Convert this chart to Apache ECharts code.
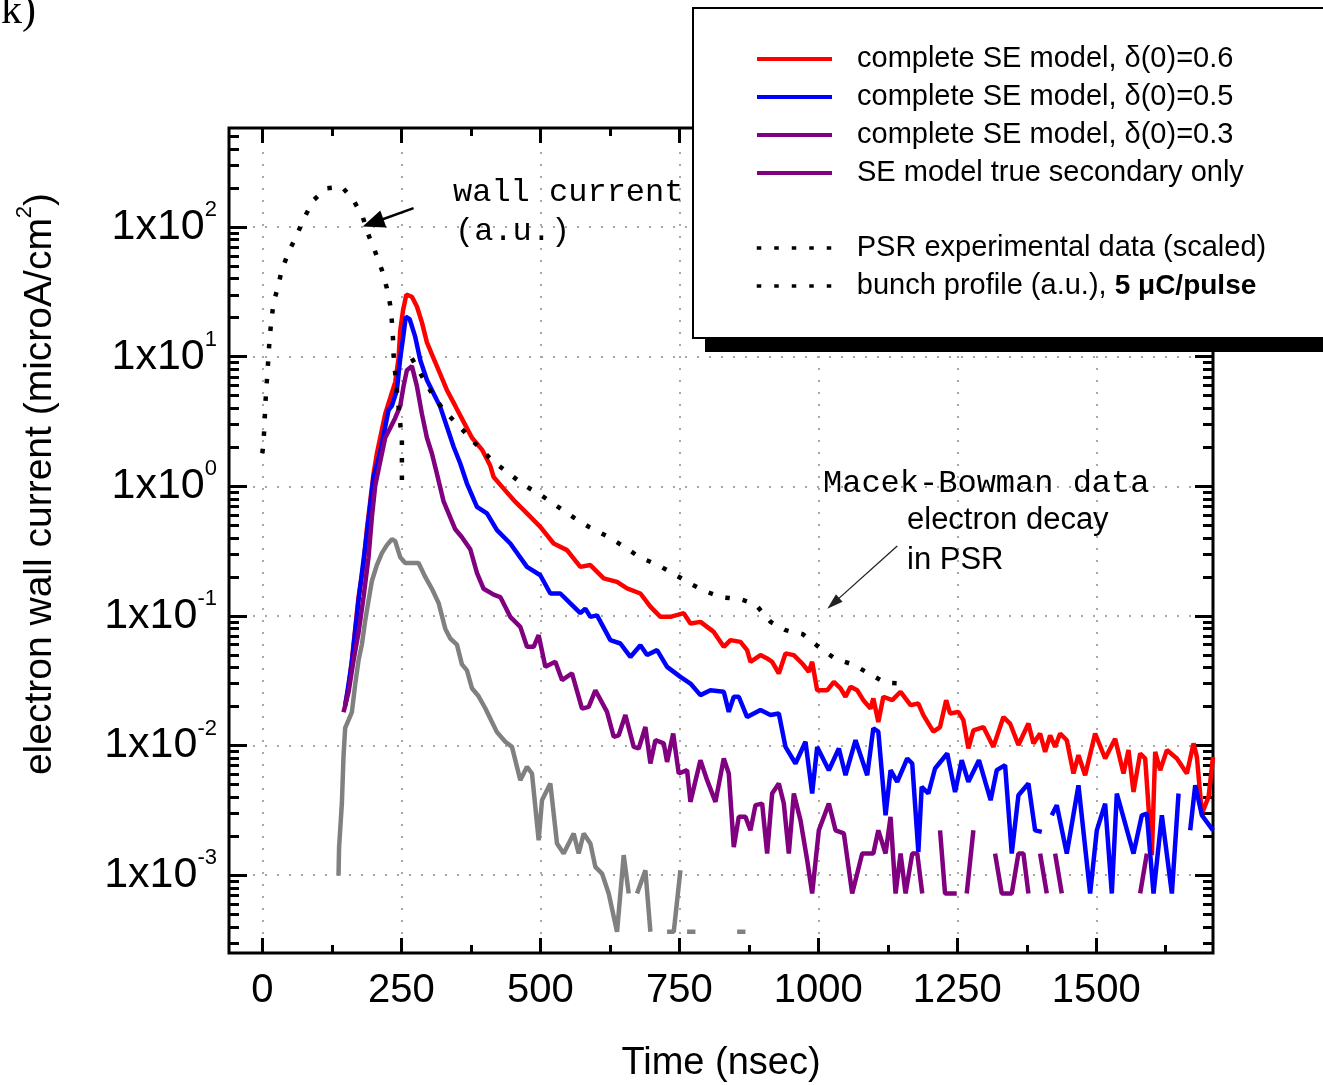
<!DOCTYPE html>
<html><head><meta charset="utf-8">
<script src="https://cdn.jsdelivr.net/npm/echarts@6/dist/echarts.min.js"></script>
<style>html,body{margin:0;padding:0;background:#fff}#c{width:1323px;height:1085px}</style>
</head><body><div id="c"></div>
<script>
// ---- tick labels ----
const xTickValues = [0, 250, 500, 750, 1000, 1250, 1500];
const xMinorTickValues = [125, 375, 625, 875, 1125, 1375, 1625];
const yDecadeExponents = [-3, -2, -1, 0, 1, 2];

// ---- series values: [time (nsec), current (microA/cm^2)], null = no signal ----
const seDelta06 = [[149,0.0209],[155,0.0277],[161,0.0454],[167,0.0798],[173,0.140],[182,0.247],[188,0.466],[194,0.765],[200,1.25],[206,1.79],[215,2.73],[221,3.62],[230,4.80],[239,6.37],[245,9.72],[248,15.9],[253,22.7],[259,30.1],[269,29.0],[278,24.4],[287,18.4],[296,12.9],[308,9.72],[320,7.33],[332,5.52],[347,4.17],[362,3.14],[377,2.37],[395,1.92],[410,1.44],[416,1.18],[434,0.96],[452,0.783],[476,0.618],[500,0.487],[524,0.362],[548,0.322],[572,0.239],[590,0.247],[614,0.195],[638,0.183],[656,0.163],[680,0.149],[698,0.118],[716,0.0984],[734,0.0984],[758,0.105],[770,0.0875],[788,0.0900],[812,0.0753],[830,0.0578],[842,0.0651],[860,0.0631],[872,0.0545],[878,0.0443],[896,0.0499],[908,0.0470],[917,0.0443],[929,0.0360],[941,0.0514],[956,0.0499],[971,0.0430],[983,0.0371],[989,0.0443],[998,0.0267],[1016,0.0267],[1028,0.0310],[1040,0.0276],[1049,0.0238],[1058,0.0284],[1070,0.0267],[1081,0.0224],[1094,0.0193],[1099,0.0231],[1108,0.0152],[1117,0.0238],[1133,0.0224],[1148,0.0260],[1166,0.0205],[1180,0.0211],[1189,0.0172],[1207,0.0128],[1219,0.0139],[1230,0.0224],[1237,0.0177],[1252,0.0182],[1261,0.0157],[1270,0.0095],[1279,0.0131],[1297,0.0139],[1315,0.00977],[1333,0.0166],[1345,0.0148],[1360,0.0101],[1378,0.0148],[1387,0.0104],[1399,0.0124],[1408,0.00894],[1417,0.0120],[1426,0.00977],[1435,0.0124],[1447,0.0110],[1459,0.00609],[1468,0.00843],[1480,0.00591],[1498,0.0124],[1516,0.00795],[1534,0.0113],[1549,0.00609],[1558,0.00923],[1567,0.00439],[1579,0.00869],[1588,0.00795],[1600,0.00143],[1606,0.00894],[1615,0.00646],[1627,0.00923],[1645,0.00795],[1663,0.00609],[1675,0.0104],[1681,0.00818],[1690,0.00299],[1702,0.00402],[1710,0.00818]];

const seDelta05 = [[149,0.0201],[161,0.0440],[173,0.132],[188,0.436],[200,1.18],[212,1.84],[227,3.88],[233,4.17],[242,5.52],[248,9.72],[254,14.9],[258,20.3],[265,19.5],[275,14.2],[284,9.42],[296,6.60],[308,5.21],[320,4.10],[332,2.88],[344,2.02],[356,1.50],[368,1.05],[386,0.695],[404,0.618],[422,0.459],[446,0.362],[476,0.239],[500,0.206],[518,0.149],[536,0.149],[554,0.125],[572,0.105],[581,0.114],[590,0.0984],[602,0.101],[626,0.0651],[644,0.0613],[662,0.0483],[680,0.0595],[692,0.0499],[710,0.0545],[728,0.0405],[752,0.0339],[770,0.0301],[788,0.0245],[806,0.0267],[830,0.0260],[839,0.0182],[848,0.0238],[857,0.0238],[872,0.0166],[896,0.0188],[914,0.0172],[929,0.0177],[941,0.00977],[959,0.00727],[977,0.0107],[989,0.00427],[998,0.00977],[1019,0.00646],[1037,0.0095],[1049,0.00591],[1067,0.0110],[1088,0.00591],[1099,0.0136],[1108,0.0128],[1121,0.0029],[1130,0.00646],[1142,0.00525],[1160,0.00795],[1169,0.00727],[1180,0.00151],[1186,0.0048],[1198,0.00427],[1210,0.00666],[1232,0.00869],[1246,0.00439],[1258,0.00771],[1270,0.00525],[1289,0.00771],[1310,0.00379],[1321,0.00646],[1336,0.00706],[1348,0.00147],[1360,0.00414],[1378,0.0051],[1390,0.00222],[1402,0.00216],[1410,null],[1420,0.0029],[1429,0.00347],[1447,0.00147],[1468,0.00494],[1489,0.000723],[1501,0.00222],[1516,0.00357],[1528,0.000723],[1537,0.00427],[1567,0.00147],[1582,0.0029],[1591,0.00299],[1603,0.000723],[1618,0.0029],[1636,0.000723],[1648,0.00427],[1655,null],[1669,0.00222],[1678,0.00494],[1690,0.0029],[1710,0.00222]];

const seDelta03 = [[146,0.0181],[155,0.0258],[164,0.0454],[173,0.0743],[182,0.140],[191,0.284],[197,0.577],[203,1.01],[212,1.55],[221,2.37],[230,2.82],[239,3.37],[248,4.17],[254,5.93],[260,7.87],[269,8.45],[278,5.93],[287,3.62],[296,2.37],[305,1.79],[314,1.25],[326,0.765],[335,0.619],[347,0.466],[359,0.405],[374,0.327],[386,0.215],[398,0.162],[416,0.146],[428,0.140],[446,0.0984],[464,0.0824],[476,0.0578],[488,0.0578],[497,0.0711],[509,0.0405],[527,0.0443],[539,0.032],[557,0.036],[575,0.0193],[587,0.0199],[599,0.0267],[620,0.0182],[632,0.0117],[641,0.0120],[653,0.0172],[668,0.00977],[677,0.0095],[689,0.0139],[698,0.00727],[707,0.0110],[722,0.0104],[728,0.00748],[739,0.0124],[749,0.00609],[764,0.00646],[770,0.00368],[788,0.00771],[800,0.00541],[815,0.00368],[830,0.00795],[839,0.00609],[848,0.00165],[857,0.00282],[869,0.00282],[878,0.00222],[887,0.00347],[899,0.00357],[908,0.00147],[917,0.00427],[929,0.0051],[938,0.00357],[947,0.00147],[956,0.00427],[968,0.00265],[980,0.00131],[989,0.000723],[1001,0.00222],[1019,0.00357],[1031,0.00222],[1046,0.0021],[1061,0.000723],[1079,0.00147],[1099,0.00147],[1108,0.00222],[1121,0.00147],[1130,0.00282],[1139,0.000723],[1148,0.00147],[1157,0.000723],[1169,0.00147],[1178,0.00147],[1187,0.000723],[1200,null],[1219,0.00222],[1228,0.000723],[1249,0.000723],[1258,null],[1267,0.000723],[1279,0.00222],[1290,null],[1318,0.00147],[1330,0.000723],[1348,0.000723],[1360,0.00147],[1369,0.00147],[1378,0.000723],[1388,null],[1399,0.00147],[1411,0.000723],[1418,null],[1426,0.00147],[1438,0.000723],[1445,null],[1579,0.000723],[1591,0.00147],[1600,null]];

const trueSecondaryOnly = [[137,0.000993],[138,0.00164],[143,0.00356],[146,0.00833],[149,0.0137],[155,0.0157],[161,0.0181],[167,0.0297],[173,0.0454],[179,0.0601],[185,0.092],[191,0.131],[197,0.186],[206,0.247],[215,0.305],[224,0.352],[233,0.391],[239,0.377],[248,0.284],[257,0.256],[269,0.256],[281,0.256],[293,0.2],[305,0.162],[317,0.126],[329,0.0798],[338,0.067],[350,0.0601],[359,0.0423],[368,0.038],[377,0.0277],[389,0.024],[401,0.0194],[413,0.0152],[422,0.0127],[437,0.0107],[449,0.00977],[464,0.00541],[476,0.00686],[485,0.00609],[497,0.00186],[503,0.00379],[518,0.0051],[530,0.00176],[542,0.00147],[560,0.0021],[569,0.00147],[578,0.0021],[590,0.00176],[599,0.00116],[611,0.00103],[623,0.000723],[638,0.000366],[650,0.00143],[659,0.000723],[666,null],[674,0.000723],[689,0.00109],[698,0.000366],[705,null],[728,0.000366],[740,0.000366],[752,0.00109],[758,null],[764,0.000366],[779,0.000366],[790,null],[854,0.000366],[869,0.000366],[875,null]];

const psrExperimental = [[269,9.7],[286,7.2],[305,5.21],[326,3.87],[355,2.88],[383,2.14],[413,1.59],[443,1.26],[471,1.02],[501,0.855],[530,0.703],[561,0.571],[589,0.482],[620,0.413],[651,0.341],[679,0.283],[709,0.25],[737,0.215],[769,0.178],[795,0.156],[827,0.139],[859,0.135],[887,0.123],[914,0.0901],[941,0.0777],[972,0.0724],[999,0.0585],[1031,0.0465],[1062,0.0423],[1091,0.036],[1121,0.0305],[1149,0.0301]];

const bunchProfile = [[0,1.8],[2,2.2],[4,3.0],[5,4.1],[7,5.5],[9,7.4],[11,10],[13,13.8],[16,18.6],[20,25.8],[28,34.6],[35,46.6],[47,63.8],[62,86.7],[75,117],[92,161],[115,199],[143,205],[164,161],[181,118],[191,86.7],[203,64.4],[215,46.6],[224,33.7],[230,25.0],[233,18.6],[235,13.8],[236,10.3],[239,7.4],[242,5.5],[245,4.1],[248,3.05],[251,2.27],[251,0.9]];

// annotation arrows [time, current]
const wallArrow = [[272, 140], [199, 108]];
const macekArrow = [[1142, 0.346], [1027, 0.125]];

// ---- names ----
const N06 = 'complete SE model, \u03b4(0)=0.6';
const N05 = 'complete SE model, \u03b4(0)=0.5';
const N03 = 'complete SE model, \u03b4(0)=0.3';
const NTS = 'SE model true secondary only';
const NPSR = 'PSR experimental data (scaled)';
const NBUNCH = 'bunch profile (a.u.), 5 \u03bcC/pulse';

// ---- helpers ----
const lg = v => (v == null ? '-' : Math.log10(v));
const toLog = arr => arr.map(p => [p[0], lg(p[1])]);
const X_MIN = -60, X_MAX = 1710, Y_MIN = -3.6, Y_MAX = 2.764;
const yMinor = [];
for (let n = -4; n <= 2; n++) for (let k = 2; k <= 9; k++) {
  const v = n + Math.log10(k);
  if (v > Y_MIN && v < Y_MAX) yMinor.push(v);
}
const FONT = 'Liberation Sans';
const tickStyle = { color: '#000', width: 3 };
const gridDot = { color: '#a8a8a8', width: 2, type: [2, 10] };

function xAx(pos, vals, len, main) {
  return {
    type: 'value', position: pos, min: X_MIN, max: X_MAX, gridIndex: 0,
    axisLine: { show: false, onZero: false },
    axisTick: { show: true, inside: true, length: len, customValues: vals, lineStyle: tickStyle },
    axisLabel: main ? { show: true, customValues: vals, margin: 18, fontSize: 40, fontFamily: FONT, color: '#000', formatter: v => String(v) } : { show: false },
    splitLine: main ? { show: true, lineStyle: gridDot } : { show: false }
  };
}
function yAx(pos, vals, len, main) {
  return {
    type: 'value', position: pos, min: Y_MIN, max: Y_MAX, gridIndex: 0,
    axisLine: { show: false, onZero: false },
    axisTick: { show: true, inside: true, length: len, customValues: vals, lineStyle: tickStyle },
    axisLabel: main ? {
      show: true, customValues: vals, margin: 12,
      formatter: v => '{a|1x10}{s|' + Math.round(v) + '}',
      rich: {
        a: { fontSize: 43, fontFamily: FONT, color: '#000', lineHeight: 56 },
        s: { fontSize: 22, fontFamily: FONT, color: '#000', lineHeight: 22, verticalAlign: 'top' }
      }
    } : { show: false },
    splitLine: main ? { show: true, lineStyle: gridDot } : { show: false }
  };
}

function lineSeries(name, data, color, extra) {
  return Object.assign({
    name, type: 'line', data: toLog(data), xAxisIndex: 0, yAxisIndex: 0,
    symbol: 'none', showSymbol: false, connectNulls: false, z: 3,
    lineStyle: { color, width: 4.5, join: 'bevel' }, itemStyle: { color }
  }, extra || {});
}
const dotted = { color: '#000', width: 4.5, type: [4.5, 13], cap: 'butt' };

const legendCommon = {
  orient: 'vertical', left: 755, padding: 0, itemWidth: 75, itemHeight: 30, itemGap: 8,
  selectedMode: false, z: 50,
  itemStyle: { opacity: 0 },
  lineStyle: { width: 4 }
};

const chart = echarts.init(document.getElementById('c'), null, { renderer: 'canvas' });
chart.setOption({
  animation: false,
  backgroundColor: '#fff',
  textStyle: { fontFamily: FONT },
  grid: { left: 229, top: 128, width: 984, height: 825, show: true, borderColor: '#000', borderWidth: 3, backgroundColor: 'transparent' },
  xAxis: [
    xAx('bottom', xTickValues, 15, true),
    xAx('bottom', xMinorTickValues, 8, false),
    xAx('top', xTickValues, 15, false),
    xAx('top', xMinorTickValues, 8, false)
  ],
  yAxis: [
    yAx('left', yDecadeExponents, 18, true),
    yAx('left', yMinor, 10, false),
    yAx('right', yDecadeExponents, 18, false),
    yAx('right', yMinor, 10, false)
  ],
  legend: [
    Object.assign({}, legendCommon, {
      top: 44,
      textStyle: { fontSize: 29, fontFamily: FONT, color: '#000', lineHeight: 30, padding: [0, 0, 0, 20] },
      data: [
        { name: N06 }, { name: N05 }, { name: N03 },
        { name: NTS, lineStyle: { color: '#800080' } }
      ]
    }),
    Object.assign({}, legendCommon, {
      top: 233,
      formatter: n => n === NBUNCH ? 'bunch profile (a.u.), {b|5 \u03bcC/pulse}' : n,
      lineStyle: { width: 3.5 },
      textStyle: {
        fontSize: 29, fontFamily: FONT, color: '#000', lineHeight: 30, padding: [0, 0, 0, 20],
        rich: { b: { fontSize: 28, fontWeight: 'bold', fontFamily: FONT, color: '#000' } }
      },
      data: [{ name: NPSR }, { name: NBUNCH }]
    })
  ],
  graphic: [
    { type: 'rect', z: 40, shape: { x: 705, y: 22, width: 700, height: 330 }, style: { fill: '#000' } },
    { type: 'rect', z: 41, shape: { x: 693, y: 8, width: 700, height: 330 }, style: { fill: '#fff', stroke: '#000', lineWidth: 2 } },
    { type: 'text', z: 45, x: 36, y: 12, style: { text: '(k)', font: '42px "Liberation Serif"', fill: '#000', align: 'right', verticalAlign: 'middle' } },
    { type: 'text', z: 45, x: 453, y: 193, style: { text: 'wall current', font: '32px "Liberation Mono"', fill: '#000', align: 'left', verticalAlign: 'middle' } },
    { type: 'text', z: 45, x: 455, y: 232, style: { text: '(a.u.)', font: '32px "Liberation Mono"', fill: '#000', align: 'left', verticalAlign: 'middle' } },
    { type: 'text', z: 45, x: 823, y: 484, style: { text: 'Macek-Bowman data', font: '32px "Liberation Mono"', fill: '#000', align: 'left', verticalAlign: 'middle' } },
    { type: 'text', z: 45, x: 907, y: 520, style: { text: 'electron decay', font: '31px "Liberation Sans"', fill: '#000', align: 'left', verticalAlign: 'middle' } },
    { type: 'text', z: 45, x: 907, y: 560, style: { text: 'in PSR', font: '31px "Liberation Sans"', fill: '#000', align: 'left', verticalAlign: 'middle' } },
    { type: 'text', z: 45, x: 721, y: 1064, style: { text: 'Time (nsec)', font: '38px "Liberation Sans"', fill: '#000', align: 'center', verticalAlign: 'middle' } },
    { type: 'text', z: 45, x: 40, y: 484, rotation: Math.PI / 2,
      style: {
        text: '{a|electron wall current (microA/cm}{s|2}{a|)}', fill: '#000', align: 'center', verticalAlign: 'middle',
        rich: {
          a: { fontSize: 39, fontFamily: FONT, fill: '#000', lineHeight: 52 },
          s: { fontSize: 22, fontFamily: FONT, fill: '#000', lineHeight: 22, verticalAlign: 'top' }
        }
      } }
  ],
  series: [
    lineSeries(N06, seDelta06, '#ff0000'),
    lineSeries(N05, seDelta05, '#0000ff'),
    lineSeries(N03, seDelta03, '#800080'),
    lineSeries(NTS, trueSecondaryOnly, '#808080'),
    lineSeries(NPSR, psrExperimental, '#000', {
      lineStyle: dotted, z: 4,
      markLine: {
        silent: true, symbol: ['none', 'triangle'], symbolSize: [10, 16], label: { show: false },
        lineStyle: { color: '#222', width: 1.3, type: 'solid' },
        data: [[{ coord: [macekArrow[0][0], lg(macekArrow[0][1])] }, { coord: [macekArrow[1][0], lg(macekArrow[1][1])] }]]
      }
    }),
    lineSeries(NBUNCH, bunchProfile, '#000', {
      lineStyle: dotted, z: 4,
      markLine: {
        silent: true, symbol: ['none', 'triangle'], symbolSize: [18, 22], label: { show: false },
        lineStyle: { color: '#000', width: 2.5, type: 'solid' },
        data: [[{ coord: [wallArrow[0][0], lg(wallArrow[0][1])] }, { coord: [wallArrow[1][0], lg(wallArrow[1][1])] }]]
      }
    })
  ]
});
</script>
</body></html>
